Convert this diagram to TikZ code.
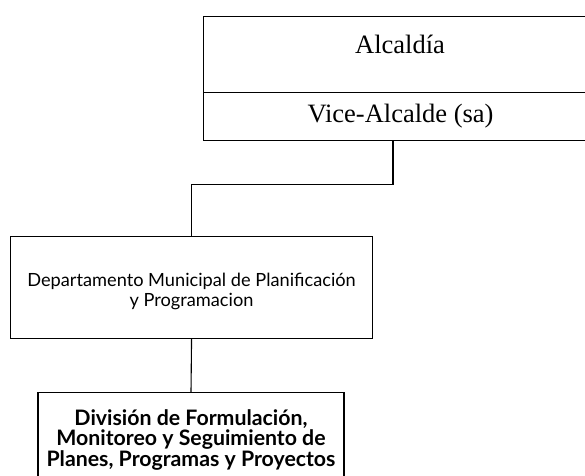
\documentclass[tikz,border=0pt]{standalone}
\usepackage{fontspec}
\setmainfont{Liberation Serif}
\newfontfamily\gill{Lato}
\begin{document}
\begin{tikzpicture}[x=1pt,y=-1pt,
  box/.style={draw=black, line width=1.1pt, rectangle, inner sep=0pt, anchor=north west},
  conn/.style={draw=black, line width=1.1pt},
  serif/.style={font=\fontsize{26.5}{30}\selectfont},
  dtext/.style={font=\gill\fontsize{18.2}{20.5}\selectfont, align=center},
  btext/.style={font=\gill\bfseries\fontsize{21.3}{20.5}\selectfont, align=center}]
\useasboundingbox (0,0) rectangle (585,475);
\clip (0,0) rectangle (585,475);
% top box
\node[box, minimum width=394pt, minimum height=76pt] (alc) at (203,16) {};
\node[serif] (alct) at (400,44) {Alcaldía};
\node[box, minimum width=394pt, minimum height=48pt, serif] (vice) at (203,92) {Vice-Alcalde (sa)};
% department
\node[box, minimum width=362pt, minimum height=102pt, dtext] (dept) at (10,236) {\rule{0pt}{21pt}Departamento Municipal de Planificación\\y Programacion};
% division
\node[box, minimum width=306pt, minimum height=94pt, btext, anchor=north] (div) at (191,392) {División de Formulación,\\Monitoreo y Seguimiento de\\Planes, Programas y Proyectos};
% connectors
\coordinate (vs) at (vice.south -| 393,0);
\draw[conn] (vs) -- ++(0,43) -| (dept.north);
\draw[conn] (dept.south) -- (div.north);
\end{tikzpicture}
\end{document}
